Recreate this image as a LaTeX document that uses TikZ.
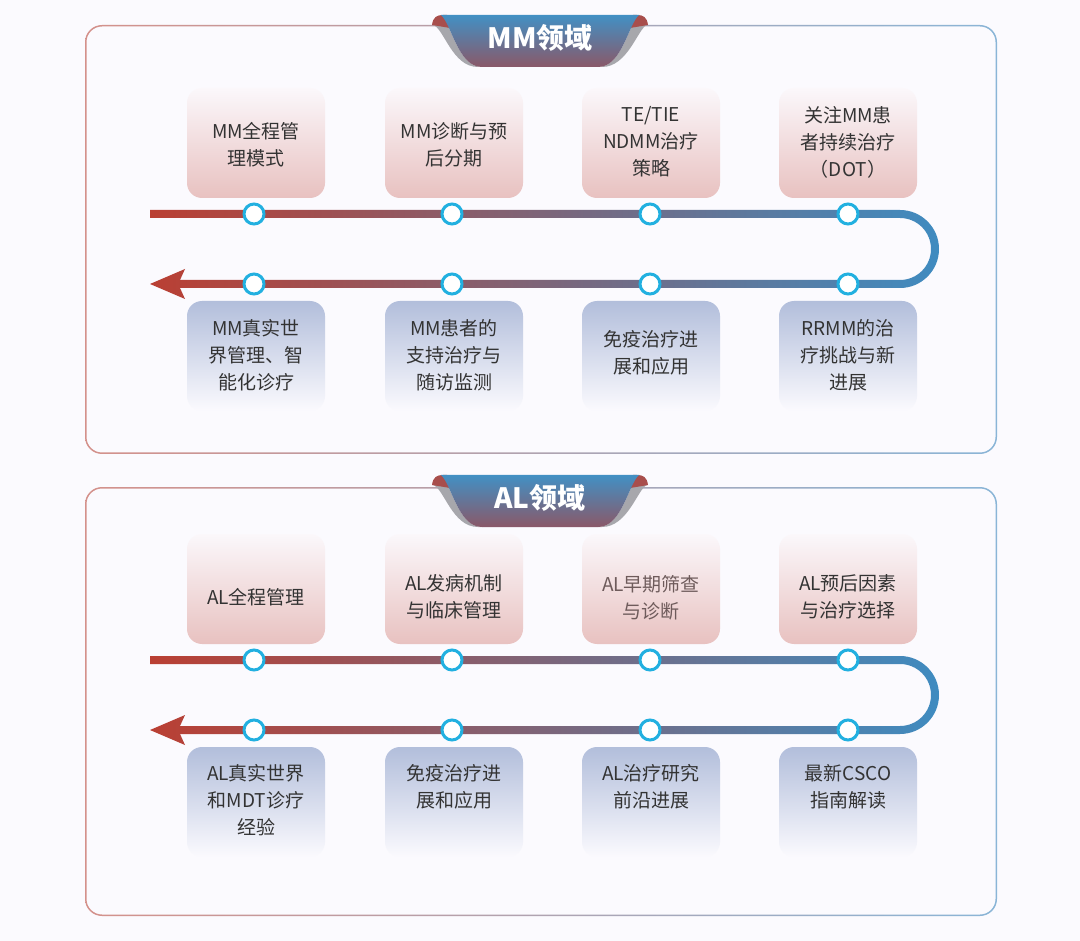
\documentclass[tikz,border=0pt]{standalone}
\usepackage{fontspec}
\setmainfont{Noto Sans CJK SC}
\definecolor{bgc}{HTML}{FBFAFE}
\definecolor{bordl}{HTML}{D4918B}
\definecolor{bordr}{HTML}{8AB5D7}
\definecolor{tabtop}{HTML}{4290C4}
\definecolor{tabbot}{HTML}{8A5868}
\definecolor{earc}{HTML}{A84E4C}
\definecolor{shadowc}{HTML}{A7A7AC}
\definecolor{trkl}{HTML}{BA3F33}
\definecolor{trkr}{HTML}{3F8BC0}
\definecolor{dotc}{HTML}{22B0E0}
\definecolor{ctt}{HTML}{FBF8FB}
\definecolor{ctm}{HTML}{F3DEDF}
\definecolor{ctb}{HTML}{E8C1C0}
\definecolor{cbt}{HTML}{B2BEDB}
\definecolor{cbm}{HTML}{DADFEE}
\definecolor{cbb}{HTML}{FBFAFE}
\definecolor{txtc}{HTML}{333333}
\definecolor{txtb}{HTML}{6E5B5B}
\newcommand{\mypanelborder}{%
  \shade[left color=bordl, right color=bordr, even odd rule, rounded corners=17]
    (85,25) rectangle (997,454) [rounded corners=15.5] (86.5,26.5) rectangle (995.5,452.5);}
\newcommand{\mytabshape}{%
  \fill[shadowc] (433,25) .. controls (444,28) and (452,67) .. (478,67) -- (482,67) .. controls (458,67) and (452,25) .. (441,15) -- cycle;
  \fill[shadowc] (647,25) .. controls (638,28) and (628,67) .. (602,67) -- (598,67) .. controls (622,67) and (628,25) .. (639,15) -- cycle;
  \fill[earc] (432,25) .. controls (433,17) and (437,15) .. (443,15) -- (447,15) -- (450,28) -- cycle;
  \fill[earc] (648,25) .. controls (647,17) and (643,15) .. (637,15) -- (633,15) -- (630,28) -- cycle;
  \shade[top color=tabtop, bottom color=tabbot] (441,15) -- (639,15) .. controls (628,25) and (622,67) .. (598,67) -- (482,67) .. controls (458,67) and (452,25) .. (441,15) -- cycle;}
\newcommand{\mytrackshape}{%
  \shade[left color=trkl, right color=trkr] (150,210) -- (900,210) .. controls (921.5,210) and (939,227.5) .. (939,249) .. controls (939,270.5) and (921.5,288) .. (900,288) -- (180,288) -- (185,299) -- (150,284) -- (185,269) -- (180,280) -- (900,280) .. controls (917.1,280) and (931,266.1) .. (931,249) .. controls (931,231.9) and (917.1,218) .. (900,218) -- (150,218) -- cycle;}
\begin{document}
\begin{tikzpicture}[x=1pt,y=-1pt,
  card/.style={rounded corners=15, minimum width=138, minimum height=110, inner sep=0, draw=none},
  topcard/.style={card, top color=ctt, middle color=ctm, bottom color=ctb},
  botcard/.style={card, top color=cbt, middle color=cbm, bottom color=cbb},
  txt/.style={font=\fontsize{19}{27}\selectfont, text=txtc, align=center, inner sep=0},
  dot/.style={circle, draw=dotc, line width=3, fill=white, minimum size=20, inner sep=0},
  title/.style={font=\fontsize{28}{28}\selectfont\bfseries, text=white, inner sep=0}]
\fill[bgc] (0,0) rectangle (1080,941);
\useasboundingbox (0,0) rectangle (1080,941);
% ===== MM panel =====
\mypanelborder
\mytabshape
\node[title] (mm-title) at (540,38) {MM领域};
\mytrackshape
\foreach \i/\x in {1/256,2/454,3/651,4/848} {
  \node[topcard] (mm-tc\i) at (\x,143) {};
  \node[botcard] (mm-bc\i) at (\x,356) {};
}
\foreach \i/\x in {1/254,2/452,3/650,4/848} {
  \node[dot] (mm-u\i) at (\x,214) {};
  \node[dot] (mm-l\i) at (\x,284) {};
}
\node[txt] (mm-t1) at (256,145) {MM全程管\\理模式};
\node[txt] (mm-t2) at (454,145) {MM诊断与预\\后分期};
\node[txt] (mm-t3) at (651,142) {TE/TIE\\NDMM治疗\\策略};
\node[txt] (mm-t4) at (848,142) {关注MM患\\者持续治疗\\（DOT）};
\node[txt] (mm-b1) at (256,355) {MM真实世\\界管理、智\\能化诊疗};
\node[txt] (mm-b2) at (454,355) {MM患者的\\支持治疗与\\随访监测};
\node[txt] (mm-b3) at (651,353) {免疫治疗进\\展和应用};
\node[txt] (mm-b4) at (848,355) {RRMM的治\\疗挑战与新\\进展};
% ===== AL panel =====
\begin{scope}[shift={(0,462)}]
  \mypanelborder
\end{scope}
\begin{scope}[shift={(0,460)}]
  \mytabshape
  \node[title] (al-title) at (540,38) {AL领域};
\end{scope}
\begin{scope}[shift={(0,446)}]
  \mytrackshape
  \foreach \i/\x in {1/256,2/454,3/651,4/848} {
    \node[topcard] (al-tc\i) at (\x,143) {};
    \node[botcard] (al-bc\i) at (\x,356) {};
  }
  \foreach \i/\x in {1/254,2/452,3/650,4/848} {
    \node[dot] (al-u\i) at (\x,214) {};
    \node[dot] (al-l\i) at (\x,284) {};
  }
  \node[txt] (al-t1) at (256,151) {AL全程管理};
  \node[txt] (al-t2) at (454,151) {AL发病机制\\与临床管理};
  \node[txt, text=txtb] (al-t3) at (651,152) {AL早期筛查\\与诊断};
  \node[txt] (al-t4) at (848,151) {AL预后因素\\与治疗选择};
  \node[txt] (al-b1) at (256,354) {AL真实世界\\和MDT诊疗\\经验};
  \node[txt] (al-b2) at (454,341) {免疫治疗进\\展和应用};
  \node[txt] (al-b3) at (651,341) {AL治疗研究\\前沿进展};
  \node[txt] (al-b4) at (848,341) {最新CSCO\\指南解读};
\end{scope}
\end{tikzpicture}
\end{document}
